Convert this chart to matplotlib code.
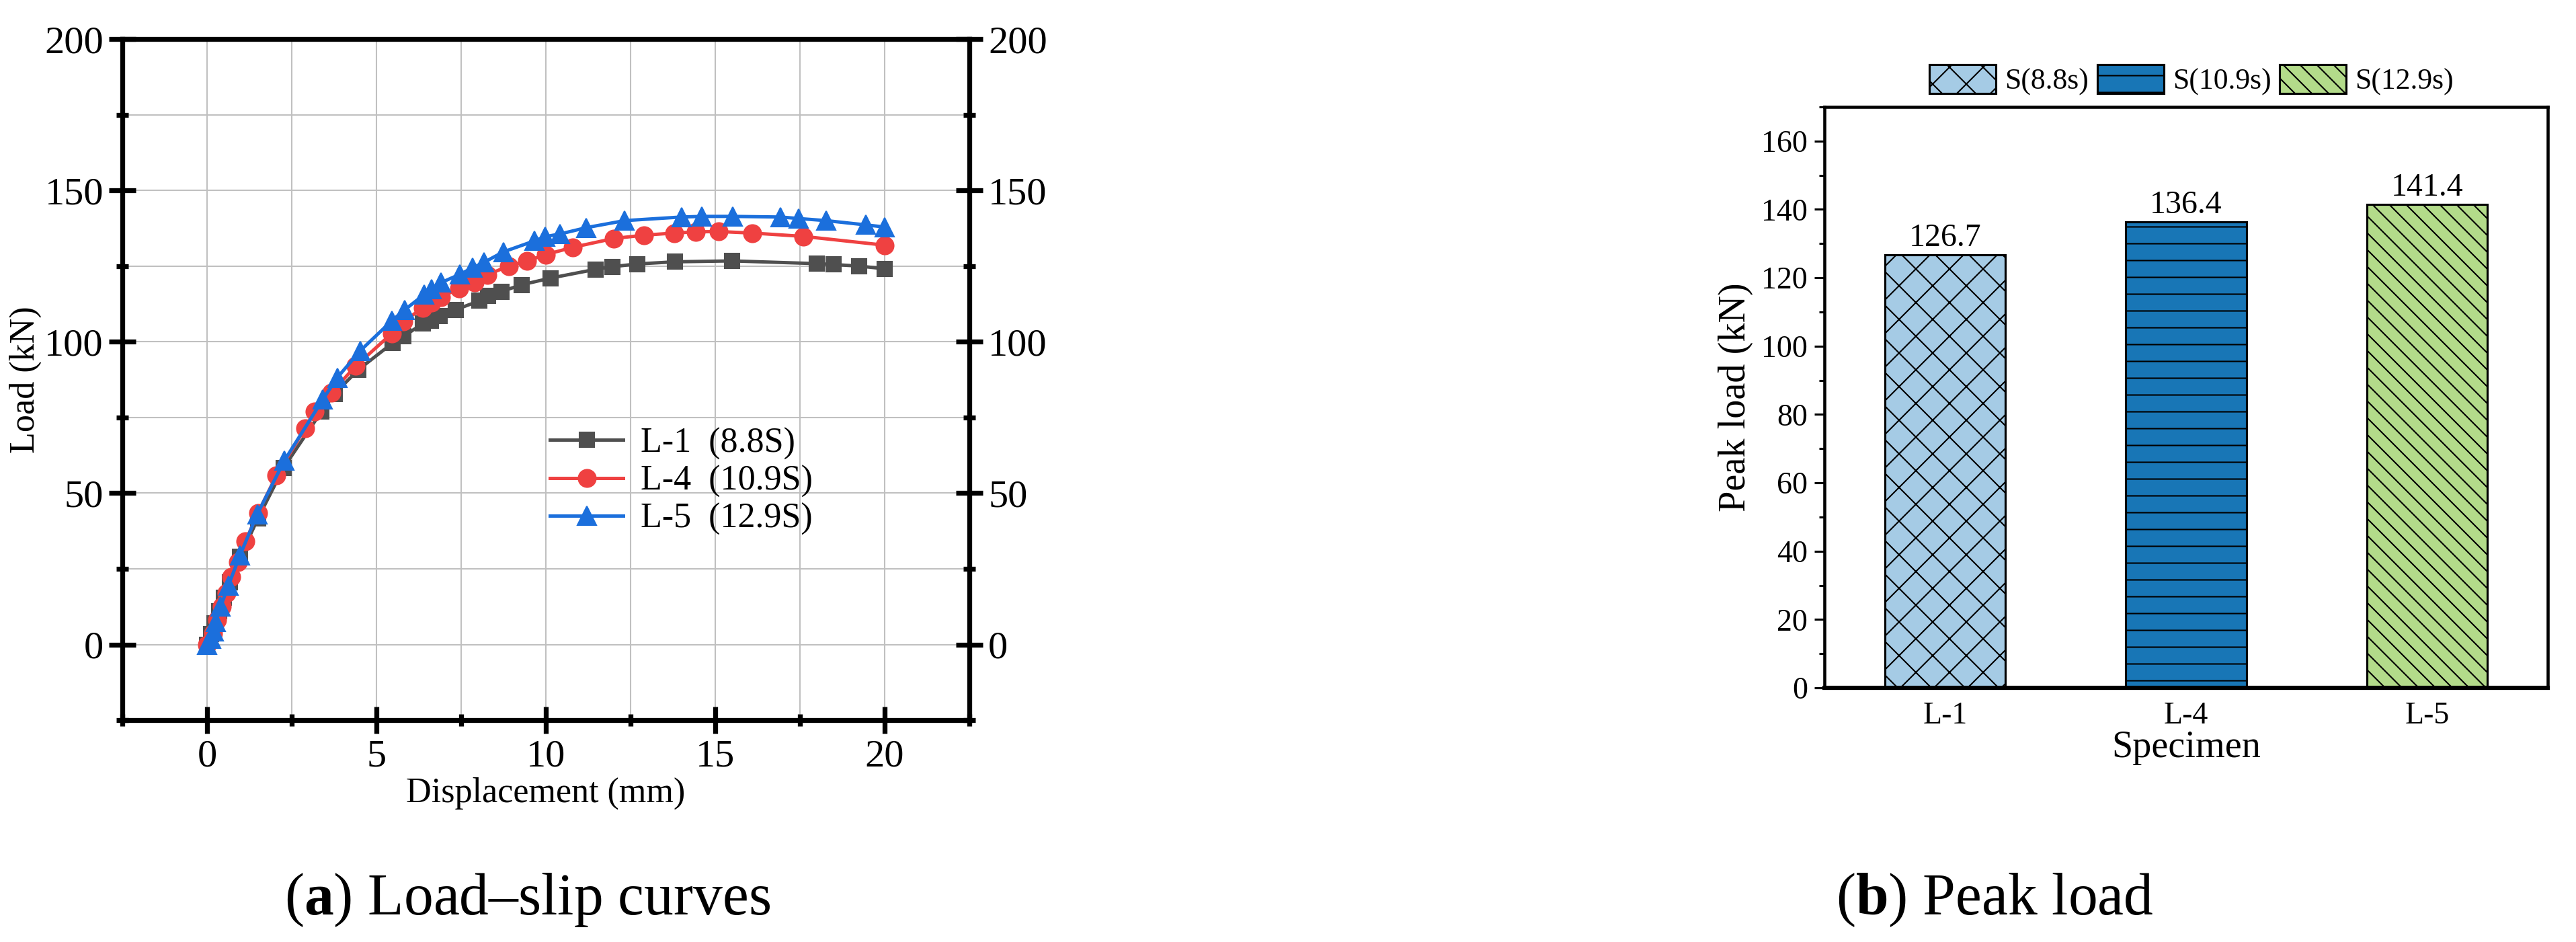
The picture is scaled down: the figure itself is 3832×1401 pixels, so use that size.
import matplotlib
matplotlib.use("Agg")
import matplotlib.pyplot as plt
from matplotlib.ticker import MultipleLocator

plt.rcParams['font.family'] = ['Liberation Serif', 'DejaVu Serif']
plt.rcParams['mathtext.fontset'] = 'custom'
plt.rcParams['mathtext.rm'] = 'Liberation Serif'
plt.rcParams['mathtext.bf'] = 'Liberation Serif:bold'
plt.rcParams['hatch.linewidth'] = 1.0

# load-slip curves (displacement in mm, load in kN)
l1_disp = [0, 0.12, 0.22, 0.35, 0.5, 0.68, 0.98, 1.5, 2.26, 3.38, 3.76, 4.47, 5.48, 5.8, 6.37, 6.6,
           6.86, 7.34, 8.04, 8.3, 8.69, 9.28, 10.13, 11.46, 11.97, 12.7, 13.8, 15.5, 18.0, 18.5, 19.24, 20.0]
l1_load = [0, 3.5, 7, 11, 15.5, 20.5, 29, 41.6, 58.4, 77, 82.8, 90.8, 99.6, 101.8, 106, 107,
           108.5, 110.6, 113.5, 115.2, 116.6, 118.8, 121, 123.9, 124.8, 125.7, 126.4, 126.7, 125.8, 125.5, 125, 124.1]

l4_disp = [0, 0.17, 0.29, 0.43, 0.57, 0.72, 0.91, 1.14, 1.5, 2.05, 2.89, 3.17, 3.67, 4.39, 5.46, 5.8, 6.37,
           6.62, 6.9, 7.45, 7.9, 8.27, 8.9, 9.45, 10.0, 10.8, 12.0, 12.9, 13.78, 14.43, 15.1, 16.1, 17.6, 20.0]
l4_load = [0, 3.7, 8, 12.5, 16.9, 22.4, 27.2, 34.2, 43.4, 55.9, 71.3, 77, 83.2, 92, 102.8, 106.7, 111.2,
           112.9, 114.7, 117.7, 119.5, 122.1, 125, 126.7, 128.8, 131.2, 134.1, 135.2, 135.9, 136.3, 136.4, 135.9, 134.8, 131.9]

l5_disp = [0, 0.11, 0.19, 0.26, 0.4, 0.63, 0.97, 1.48, 2.28, 3.42, 3.84, 4.52, 5.46, 5.84, 6.41, 6.62, 6.9,
           7.47, 7.83, 8.17, 8.75, 9.66, 9.98, 10.42, 11.2, 12.32, 14.0, 14.6, 15.52, 16.93, 17.46, 18.28, 19.44, 20.0]
l5_load = [0, 1.8, 4.4, 7.4, 12.5, 19.5, 29.4, 43, 60.7, 81, 88.1, 97, 107, 110.6, 115.6, 117.3, 119.5,
           122.3, 124.4, 126.2, 129.7, 133.3, 134.7, 135.6, 137.7, 140, 141.2, 141.4, 141.4, 141.2, 140.7, 140, 138.6, 137.9]

curve_labels = ['L-1  (8.8S)', 'L-4  (10.9S)', 'L-5  (12.9S)']

# peak loads
specimens = ['L-1', 'L-4', 'L-5']
peak_load = [126.7, 136.4, 141.4]
bar_labels = ['S(8.8s)', 'S(10.9s)', 'S(12.9s)']

fig = plt.figure(figsize=(3832 / 150, 1401 / 150), dpi=150)

# (a) load-slip curves
ax1 = fig.add_axes([0.0475, 0.2355, 0.3288, 0.7231])
ax1.plot(l1_disp, l1_load, color='#4f4f4f', lw=2.4, marker='s', ms=10.5, label=curve_labels[0])
ax1.plot(l4_disp, l4_load, color='#ef4141', lw=2.4, marker='o', ms=12.5, label=curve_labels[1])
ax1.plot(l5_disp, l5_load, color='#1b6fdc', lw=2.4, marker='^', ms=13, label=curve_labels[2])

ax1.set_xlim(-2.5, 22.5)
ax1.set_ylim(-25, 200)
ax1.xaxis.set_major_locator(MultipleLocator(5))
ax1.xaxis.set_minor_locator(MultipleLocator(2.5))
ax1.yaxis.set_major_locator(MultipleLocator(50))
ax1.yaxis.set_minor_locator(MultipleLocator(25))
ax1.grid(True, which='both', color='#c0c0c0', lw=1.0)
ax1.set_axisbelow(True)
for sp in ax1.spines.values():
    sp.set_linewidth(3.5)
ax1.tick_params(which='both', direction='inout', width=3.5, right=True, labelright=True,
                top=False, labelsize=28, pad=4)
ax1.tick_params(which='major', length=19)
ax1.tick_params(which='minor', length=9)
ax1.set_xlabel('Displacement (mm)', fontsize=25, labelpad=2)
ax1.set_ylabel('Load (kN)', fontsize=25, labelpad=2)
ax1.legend(loc='center left', bbox_to_anchor=(0.5048, 0.3505), frameon=False, fontsize=25,
           handlelength=2.1, handletextpad=0.5, labelspacing=0.15, borderpad=0, borderaxespad=0)

# (b) peak load
ax2 = fig.add_axes([0.7083, 0.2698, 0.2807, 0.6167])
bar_colors = ['#a5cbe5', '#1876b6', '#b3db8a']
hatches = ['x', '-', '\\\\']
bars = ax2.bar(range(len(specimens)), peak_load, width=0.5, color=bar_colors, edgecolor='black',
               linewidth=1.5, hatch=hatches, label=bar_labels)
ax2.bar_label(bars, labels=[f'{v:.1f}' for v in peak_load], padding=1.5, fontsize=23)
ax2.set_xlim(-0.5, 2.5)
ax2.set_ylim(0, 170)
ax2.set_xticks(range(len(specimens)))
ax2.set_xticklabels(specimens)
ax2.yaxis.set_major_locator(MultipleLocator(20))
ax2.yaxis.set_minor_locator(MultipleLocator(10))
for sp in ax2.spines.values():
    sp.set_linewidth(2.2)
ax2.spines['bottom'].set_linewidth(3)
ax2.tick_params(axis='x', length=0, labelsize=22, pad=10)
ax2.tick_params(axis='y', which='major', length=7, width=1.5, labelsize=22, pad=5)
ax2.tick_params(axis='y', which='minor', length=4, width=1.5)
ax2.set_xlabel('Specimen', fontsize=27, labelpad=0)
ax2.set_ylabel('Peak load (kN)', fontsize=27, labelpad=6)
fig.legend(handles=list(bars), labels=bar_labels, loc='center', bbox_to_anchor=(0.8507, 0.915),
           ncol=3, frameon=False, fontsize=21, handlelength=2.26, handleheight=1.12,
           handletextpad=0.3, columnspacing=0.3)

# captions
fig.text(0.2046, 0.0293, r'($\mathbf{a}$) Load–slip curves', fontsize=42, ha='center', va='baseline')
fig.text(0.7743, 0.0293, r'($\mathbf{b}$) Peak load', fontsize=42, ha='center', va='baseline')

fig.savefig('out.png', dpi=150)
